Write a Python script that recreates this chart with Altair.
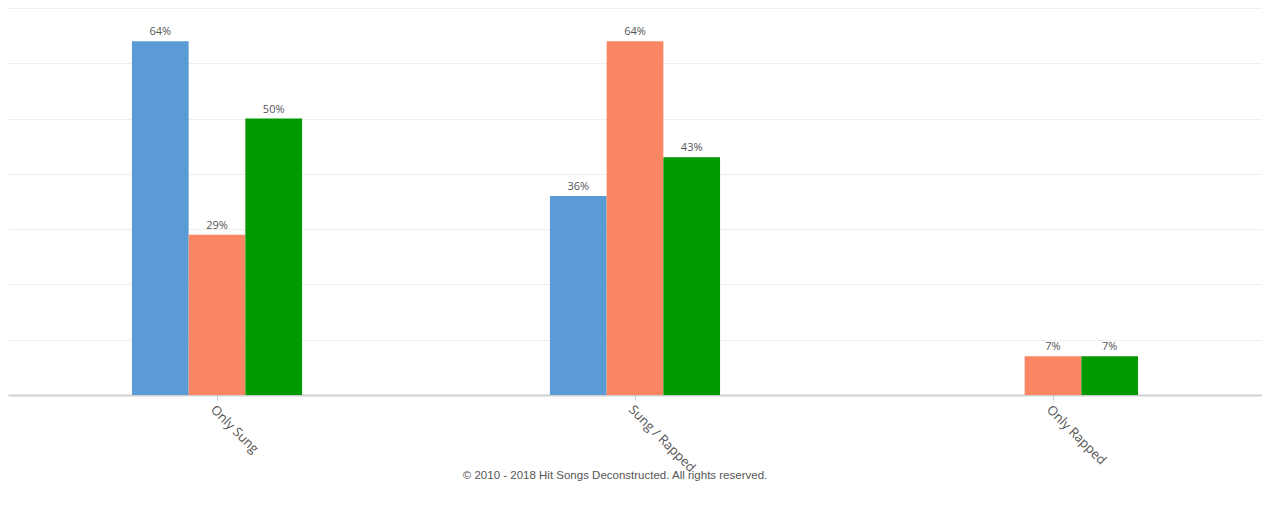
import altair as alt
import pandas as pd

categories = ["Only Sung", "Sung / Rapped", "Only Rapped"]
series_names = ["Series 1", "Series 2", "Series 3"]
series_1 = [64, 36, 0]
series_2 = [29, 64, 7]
series_3 = [50, 43, 7]
colors = ["#5b9bd5", "#fa8664", "#009900"]
footer = "© 2010 - 2018 Hit Songs Deconstructed. All rights reserved."

rows = []
for i, c in enumerate(categories):
    for s, vals in zip(series_names, [series_1, series_2, series_3]):
        rows.append({"category": c, "series": s, "value": vals[i],
                     "label": f"{vals[i]}%" if vals[i] > 0 else ""})
df = pd.DataFrame(rows)

x = alt.X("category:N", sort=categories, title=None,
          scale=alt.Scale(paddingInner=0.593, paddingOuter=0.2965),
          axis=alt.Axis(labelAngle=45, labelAlign="left", labelBaseline="top",
                        labelFont="Open Sans", labelFontSize=13, labelColor="#555555",
                        tickColor="#cccccc", tickSize=5, domainColor="#d0d0d0",
                        domainWidth=2, labelPadding=3))
y = alt.Y("value:Q", title=None,
          scale=alt.Scale(domain=[0, 70], nice=False),
          axis=alt.Axis(labels=False, ticks=False, domain=False, values=[0,10,20,30,40,50,60,70],
                        gridColor="#eeeeee", gridWidth=1))
xoff = alt.XOffset("series:N", sort=series_names)

bars = alt.Chart(df).mark_bar().encode(
    x=x, y=y, xOffset=xoff,
    color=alt.Color("series:N", scale=alt.Scale(domain=series_names, range=colors), legend=None),
)
labels = alt.Chart(df).mark_text(dy=-9, fontSize=11, font="Open Sans", color="#555555").encode(
    x=x, y=y, xOffset=xoff, text="label:N"
)
foot = alt.Chart(pd.DataFrame({"t": [footer]})).mark_text(
    font="Liberation Sans", fontSize=11.5, color="#555555", baseline="middle", align="center"
).encode(x=alt.value(607), y=alt.value(468), text="t:N")

chart = alt.layer(bars, labels, foot).properties(
    width=1254, height=387,
    padding={"left": 0, "top": 0, "right": 0, "bottom": 0},
).configure_view(stroke=None)

chart.save("out.html", embed_options={"renderer": "svg", "actions": False})
